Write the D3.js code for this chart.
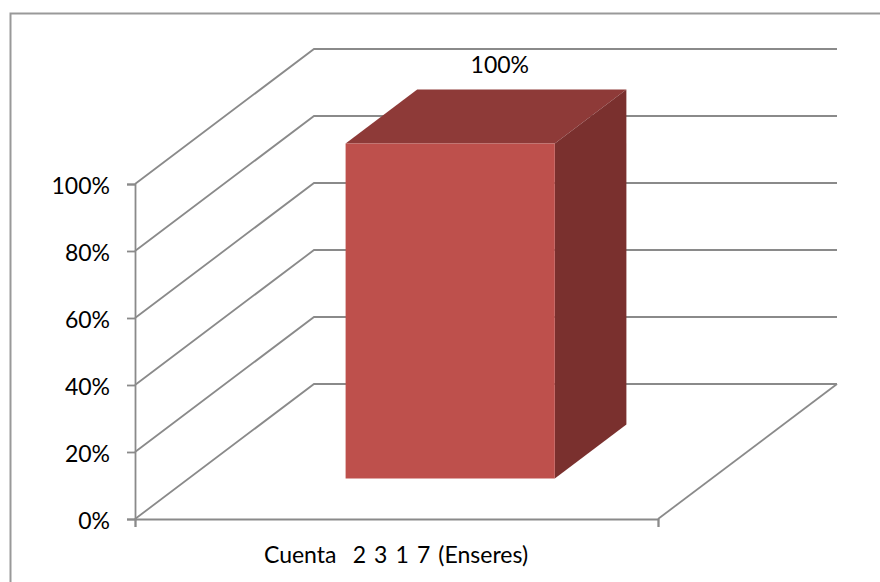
<!DOCTYPE html>
<html lang="es">
<head>
<meta charset="utf-8">
<title>Cuenta 2 3 1 7 (Enseres)</title>
<script src="https://cdn.jsdelivr.net/npm/d3@7/dist/d3.min.js"></script>
<style>
  html, body { margin: 0; padding: 0; background: #fff; }
  svg { display: block; }
  text { font-family: Lato, "Open Sans", sans-serif; fill: #000; white-space: pre; }
</style>
</head>
<body>
<script>
const categories = ["Cuenta  2 3 1 7 (Enseres)"];
const values = [100];
const valueTicks = [0, 20, 40, 60, 80, 100];

const width = 880, height = 582;
const plot = { left: 135, right: 658, top: 184, bottom: 519 };
const depth = { dx: 179, dy: 135 };      // oblique offset of the back wall
const barDepth = [0.3, 0.7];             // bar's front and back, as fractions of the floor depth
const gridColor = "#8a8a8a";
const gridWidth = 1.8;
const fontSize = 23;

const svg = d3.select("body").append("svg")
  .attr("width", width).attr("height", height);

const x = d3.scaleBand().domain(categories)
  .range([plot.left, plot.right]).paddingInner(0.6).paddingOuter(0.3);
const xEdge = d3.scaleLinear().domain([0, 1]).range([plot.left, plot.right]);
const y = d3.scaleLinear().domain([0, 100]).range([plot.bottom, plot.top]);
const zx = d3.scaleLinear().domain([0, 1]).range([0, depth.dx]);
const zy = d3.scaleLinear().domain([0, 1]).range([0, -depth.dy]);

// Projects a point given in data space (pixel x, value, depth) onto the page.
const project = (px, v, z) => [px + zx(z), y(v) + zy(z)];
const pathOf = pts => "M" + pts.map(p => p.join(",")).join("L") + "Z";
const lineOf = d3.line();

// Chart frame: its right and bottom edges fall outside the page
svg.append("path")
  .attr("d", `M10.5,${height}V13.5H${width}`)
  .attr("fill", "none").attr("stroke", "#999").attr("stroke-width", 2);

// Gridlines running along the side wall and the back wall
svg.append("g").selectAll("path").data(valueTicks).join("path")
  .attr("d", v => lineOf([
    project(plot.left, v, 0),
    project(plot.left, v, 1),
    project(plot.right, v, 1)
  ]))
  .attr("fill", "none").attr("stroke", gridColor).attr("stroke-width", gridWidth);

// Right edge of the floor
svg.append("path")
  .attr("d", lineOf([project(plot.right, 0, 0), project(plot.right, 0, 1)]))
  .attr("fill", "none").attr("stroke", gridColor).attr("stroke-width", gridWidth);

// Value axis
const yAxis = svg.append("g")
  .attr("transform", `translate(${plot.left},0)`)
  .call(d3.axisLeft(y).tickValues(valueTicks).tickFormat(d => d + "%")
    .tickSize(8).tickPadding(17));
yAxis.selectAll("text").style("font-size", fontSize + "px").attr("dy", "0.42em");
yAxis.attr("font-family", null);
yAxis.selectAll("line,path").attr("stroke", gridColor).attr("stroke-width", gridWidth);

// Category axis: ticks mark the band's edges
const xAxis = svg.append("g")
  .attr("transform", `translate(0,${plot.bottom})`)
  .call(d3.axisBottom(xEdge).tickValues([0, 1]).tickFormat("").tickSize(8));
xAxis.selectAll("line,path").attr("stroke", gridColor).attr("stroke-width", gridWidth);

svg.append("g").selectAll("text").data(categories).join("text")
  .attr("x", d => x(d) + x.bandwidth() / 2 - 0.5)
  .attr("y", 563)
  .attr("text-anchor", "middle")
  .style("font-size", fontSize + "px")
  .style("word-spacing", "2.2px")
  .text(d => d);

// Bars, each as three visible faces of a box
const bars = svg.append("g").selectAll("g")
  .data(categories.map((c, i) => ({ c, v: values[i] })))
  .join("g");

const [zf, zb] = barDepth;
bars.append("path").attr("fill", "#8e3a38").attr("d", d => {
  const l = x(d.c), r = l + x.bandwidth();
  return pathOf([project(l, d.v, zf), project(r, d.v, zf), project(r, d.v, zb), project(l, d.v, zb)]);
});
bars.append("path").attr("fill", "#7a302e").attr("d", d => {
  const r = x(d.c) + x.bandwidth();
  return pathOf([project(r, 0, zf), project(r, d.v, zf), project(r, d.v, zb), project(r, 0, zb)]);
});
bars.append("path").attr("fill", "#be504c").attr("d", d => {
  const l = x(d.c), r = l + x.bandwidth();
  return pathOf([project(l, 0, zf), project(r, 0, zf), project(r, d.v, zf), project(l, d.v, zf)]);
});

// Value label above the bar's back edge
bars.append("text")
  .attr("x", d => project(x(d.c) + x.bandwidth() / 2, d.v, zb)[0] - 22)
  .attr("y", d => project(0, d.v, zb)[1] - 17)
  .attr("text-anchor", "middle")
  .style("font-size", fontSize + "px")
  .text(d => d.v + "%");
</script>
</body>
</html>
